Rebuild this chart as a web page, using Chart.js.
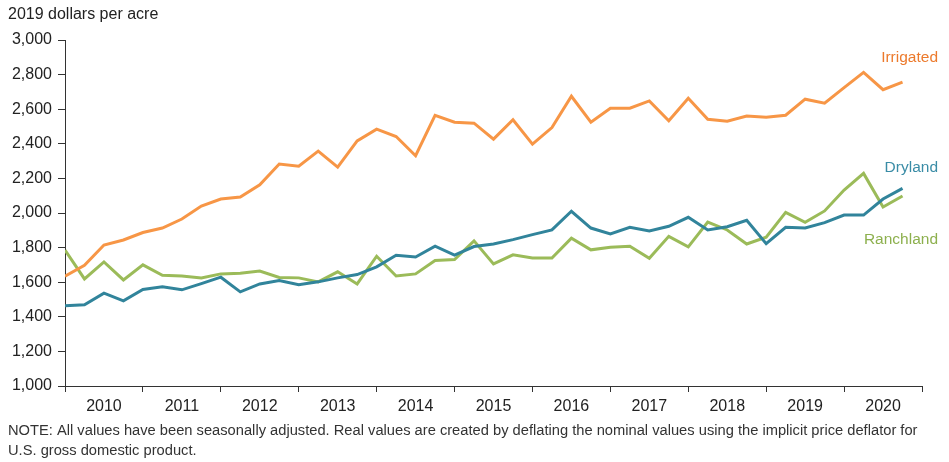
<!DOCTYPE html>
<html>
<head>
<meta charset="utf-8">
<script src="https://cdn.jsdelivr.net/npm/chart.js@4"></script>
<style>
  html, body { margin: 0; padding: 0; background: #fff; }
  #wrap { position: relative; width: 949px; height: 462px; }
</style>
</head>
<body>
<div id="wrap"><canvas id="landChart" width="949" height="462"></canvas></div>
<script>
// Quarterly values, 2010 Q1 .. 2020 Q4
const years = [2010, 2011, 2012, 2013, 2014, 2015, 2016, 2017, 2018, 2019, 2020];
const yTicks = [1000, 1200, 1400, 1600, 1800, 2000, 2200, 2400, 2600, 2800, 3000];

const irrigated = [
    1635, 1698, 1815, 1844, 1887, 1913, 1965, 2040, 2081, 2092, 2163,
    2283, 2271, 2358, 2265, 2417, 2485, 2442, 2331, 2565, 2525, 2519,
    2427, 2539, 2398, 2494, 2675, 2525, 2606, 2606, 2648, 2533, 2663,
    2542, 2531, 2560, 2554, 2565, 2658, 2635, 2725, 2813, 2713, 2756
];
const dryland = [
    1464, 1470, 1537, 1492, 1558, 1573, 1556, 1592, 1629, 1544, 1590,
    1610, 1585, 1602, 1625, 1644, 1689, 1756, 1746, 1808, 1756, 1806,
    1821, 1846, 1875, 1902, 2010, 1913, 1879, 1917, 1896, 1923, 1975,
    1902, 1921, 1958, 1823, 1917, 1913, 1944, 1988, 1988, 2081, 2142
];
const ranchland = [
    1785, 1619, 1717, 1613, 1700, 1640, 1636, 1625, 1648, 1652, 1665,
    1627, 1625, 1602, 1660, 1590, 1750, 1636, 1648, 1725, 1731, 1839,
    1706, 1758, 1740, 1740, 1854, 1787, 1802, 1808, 1738, 1865, 1804,
    1948, 1902, 1821, 1860, 2004, 1946, 2012, 2133, 2229, 2035, 2098
];

const toPoints = arr => arr.map((v, i) => ({ x: i, y: v }));
const axisColor = '#333333';
const fontFamily = '"Liberation Sans", Arial, sans-serif';

// title, note and series labels drawn on the canvas
const textPlugin = {
    id: 'texts',
    afterDraw(chart) {
        const ctx = chart.ctx;
        const area = chart.chartArea;
        ctx.save();
        ctx.textBaseline = 'middle';
        ctx.font = '16px ' + fontFamily;
        ctx.fillStyle = '#222';
        ctx.textAlign = 'left';
        ctx.fillText('2019 dollars per acre', 8, 15);

        ctx.font = '14.7px ' + fontFamily;
        ctx.fillStyle = '#333';
        ctx.fillText('NOTE: All values have been seasonally adjusted. Real values are created by deflating the nominal values using the implicit price deflator for', 8, 431);
        ctx.fillText('U.S. gross domestic product.', 8, 451);

        ctx.font = '15.5px ' + fontFamily;
        ctx.textAlign = 'right';
        const labels = [
            ['Irrigated', '#EC7A2C', 58],
            ['Dryland', '#3A8CA6', 168],
            ['Ranchland', '#8DB04E', 240]
        ];
        labels.forEach(([t, c, y]) => {
            ctx.fillStyle = c;
            ctx.fillText(t, area.right + 16, y);
        });
        ctx.restore();
    }
};

new Chart(document.getElementById('landChart'), {
    type: 'line',
    data: {
        datasets: [
            { label: 'Irrigated', data: toPoints(irrigated), borderColor: '#F79646' },
            { label: 'Dryland', data: toPoints(dryland), borderColor: '#31849B' },
            { label: 'Ranchland', data: toPoints(ranchland), borderColor: '#9BBB59' }
        ]
    },
    options: {
        responsive: false,
        animation: false,
        devicePixelRatio: 1,
        layout: { padding: { top: 40, right: 27, bottom: 46, left: 0 } },
        elements: {
            line: { borderWidth: 3, tension: 0 },
            point: { radius: 0 }
        },
        plugins: {
            legend: { display: false },
            tooltip: { enabled: false }
        },
        scales: {
            x: {
                type: 'linear',
                min: 0,
                max: years.length * 4,
                afterFit: s => { s.height = 30; },
                afterBuildTicks: s => {
                    const t = [];
                    for (let v = 0; v <= years.length * 4; v += 2) t.push({ value: v });
                    s.ticks = t;
                },
                ticks: {
                    autoSkip: false,
                    maxRotation: 0,
                    padding: 5,
                    color: '#222',
                    font: { family: fontFamily, size: 16 },
                    callback: v => (v % 4 === 2 ? String(years[(v - 2) / 4]) : '')
                },
                grid: {
                    drawOnChartArea: false,
                    tickLength: 6,
                    color: c => (c.tick && c.tick.value % 4 === 0 ? axisColor : 'rgba(0,0,0,0)')
                },
                border: { color: axisColor, width: 1 }
            },
            y: {
                min: 1000,
                max: 3000,
                afterFit: s => { s.width = 65; },
                afterBuildTicks: s => { s.ticks = yTicks.map(v => ({ value: v })); },
                ticks: {
                    padding: 6,
                    color: '#222',
                    font: { family: fontFamily, size: 16 },
                    callback: v => v.toLocaleString('en-US')
                },
                grid: {
                    drawOnChartArea: false,
                    tickLength: 7,
                    color: axisColor
                },
                border: { color: axisColor, width: 1 }
            }
        }
    },
    plugins: [textPlugin]
});
</script>
</body>
</html>
